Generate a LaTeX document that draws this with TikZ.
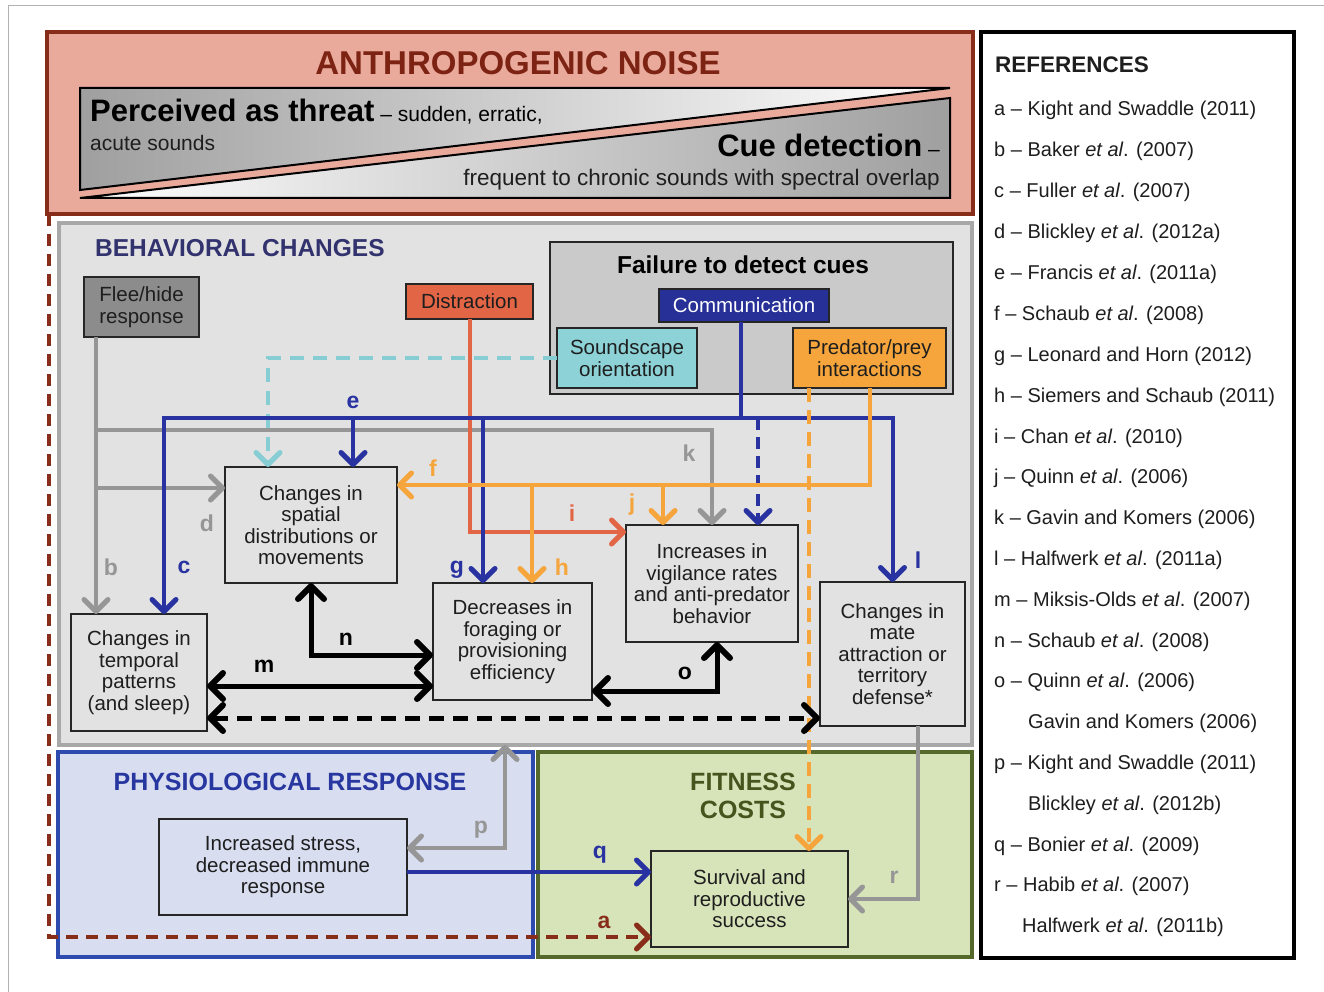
\documentclass[tikz,border=0pt]{standalone}
\usepackage{fontspec}
\setmainfont{Liberation Sans}
\usetikzlibrary{arrows.meta,calc}
\newcommand\myfs[2]{\fontsize{#1}{#2}\selectfont}
\definecolor{salmon}{RGB}{234,170,155}
\definecolor{brick}{RGB}{135,45,25}
\definecolor{anthtxt}{RGB}{125,35,20}
\definecolor{behfill}{RGB}{226,226,226}
\definecolor{behdraw}{RGB}{168,168,168}
\definecolor{behtxt}{RGB}{50,50,110}
\definecolor{failfill}{RGB}{202,202,202}
\definecolor{navy}{RGB}{40,50,160}
\definecolor{commfill}{RGB}{38,48,150}
\definecolor{orng}{RGB}{245,165,60}
\definecolor{redor}{RGB}{226,102,70}
\definecolor{cyanf}{RGB}{140,210,215}
\definecolor{cyanl}{RGB}{135,205,212}
\definecolor{gline}{RGB}{150,150,150}
\definecolor{fleefill}{RGB}{140,140,140}
\definecolor{phyfill}{RGB}{216,221,240}
\definecolor{phydraw}{RGB}{45,75,175}
\definecolor{phytxt}{RGB}{40,55,160}
\definecolor{fitfill}{RGB}{215,228,186}
\definecolor{fitdraw}{RGB}{85,105,45}
\definecolor{fittxt}{RGB}{70,85,30}
\definecolor{txt}{RGB}{30,30,30}
\begin{document}
\begin{tikzpicture}[x=1pt,y=-1pt,
  tipc/.style={>={Straight Barb[length=12pt,width=24pt,line width=5pt,round]}},
  tipk/.style={>={Straight Barb[length=13pt,width=26pt,line width=6pt,round]}},
  cont/.style={line width=4pt, inner sep=0pt, outer sep=0pt},
  box/.style={draw=black!85, line width=1.5pt, inner sep=0pt, outer sep=0pt, align=center, text=txt, font=\myfs{20.5}{21.5}},
  lab/.style={inner sep=0pt, font=\bfseries\myfs{23}{23}},
  gl/.style={draw=gline, line width=4pt, tipc},
  bl/.style={draw=navy, line width=4pt, tipc},
  og/.style={draw=orng, line width=4pt, tipc},
  rd/.style={draw=redor, line width=4pt, tipc},
  cy/.style={draw=cyanl, line width=4pt, dash pattern=on 14pt off 9pt, tipc},
  bk/.style={draw=black, line width=5pt, tipk},
  ar/.style={draw=brick, line width=4.5pt, dash pattern=on 12pt off 8pt, tipc},
  reft/.style={anchor=base west, inner sep=0pt, text=txt, font=\myfs{20}{20}}
]
\useasboundingbox (0,0) rectangle (1324,992);
\fill[white] (0,0) rectangle (1324,992);
\draw[gray!60, line width=1pt] (8,992) -- (8,6) -- (1324,6);

% ---------- containers ----------
\node[cont, draw=brick, line width=4.5pt, fill=salmon, minimum width=926pt, minimum height=182pt] (anth) at (510,123) {};
\node[cont, draw=behdraw, fill=behfill, minimum width=913pt, minimum height=522pt] (behav) at (515.5,484) {};
\node[cont, draw=phydraw, fill=phyfill, minimum width=475pt, minimum height=205pt] (physio) at (295.5,854.5) {};
\node[cont, draw=fitdraw, fill=fitfill, minimum width=434pt, minimum height=205pt] (fitness) at (755,854.5) {};
\node[cont, draw=black, line width=4.5pt, fill=white, minimum width=313pt, minimum height=926pt] (refs) at (1137.5,495) {};

% ---------- banner ----------
\node[inner sep=0pt, text=anthtxt, font=\bfseries\myfs{33}{33}] (anthT) at (518,63) {ANTHROPOGENIC NOISE};
\shade[left color=gray!75, right color=white] (80,88) -- (950,88) -- (80,190) -- cycle;
\draw[black, line width=2pt, line join=miter] (80,88) -- (950,88) -- (80,190) -- cycle;
\shade[left color=white, right color=gray!75] (80,198) -- (950,98) -- (950,198) -- cycle;
\draw[black, line width=2pt, line join=miter] (80,198) -- (950,98) -- (950,198) -- cycle;
\node[anchor=base west, inner sep=0pt, text=black] (threat) at (90,122) {{\bfseries\myfs{31}{31}Perceived as threat}{\myfs{21}{21} – sudden, erratic,}};
\node[anchor=base west, inner sep=0pt, text=txt, font=\myfs{21}{21}] (acute) at (90,151) {acute sounds};
\node[anchor=base east, inner sep=0pt, text=black] (cue) at (940,157) {{\bfseries\myfs{31}{31}Cue detection}{\myfs{21}{21} –}};
\node[anchor=base east, inner sep=0pt, text=txt, font=\myfs{22.5}{22.5}] (freq) at (940,186) {frequent to chronic sounds with spectral overlap};

% ---------- behavioral ----------
\node[anchor=west, inner sep=0pt, text=behtxt, font=\bfseries\myfs{24.5}{24.5}] (behT) at (95,248) {BEHAVIORAL CHANGES};
\node[box, fill=failfill, minimum width=403pt, minimum height=152pt] (fail) at (751.5,318) {};
\node[inner sep=0pt, text=black, font=\bfseries\myfs{24.5}{24.5}] (failT) at (743,265) {Failure to detect cues};
\node[box, fill=commfill, text=white, minimum width=170pt, minimum height=33pt] (comm) at (744,305.5) {Communication};
\node[box, fill=cyanf, minimum width=140pt, minimum height=60pt] (sound) at (627,358) {Soundscape\\orientation};
\node[box, fill=orng, minimum width=153pt, minimum height=60pt] (pred) at (869.5,358) {Predator/prey\\interactions};
\node[box, fill=redor, minimum width=127pt, minimum height=35pt] (distr) at (469.5,301.5) {Distraction};
\node[box, fill=fleefill, minimum width=115pt, minimum height=60pt] (flee) at (141.5,307) {Flee/hide\\response};

\node[box, fill=behfill, minimum width=172pt, minimum height=116pt] (spatial) at (311,525) {Changes in\\spatial\\distributions or\\movements};
\node[box, fill=behfill, minimum width=136pt, minimum height=117pt] (temporal) at (139,672.5) {Changes in\\temporal\\patterns\\(and sleep)};
\node[box, fill=behfill, minimum width=159pt, minimum height=117pt] (forage) at (512.5,641.5) {Decreases in\\foraging or\\provisioning\\efficiency};
\node[box, fill=behfill, minimum width=172pt, minimum height=117pt] (vigil) at (712,583.5) {Increases in\\vigilance rates\\and anti-predator\\behavior};
\node[box, fill=behfill, minimum width=145pt, minimum height=144pt] (mate) at (892.5,654) {Changes in\\mate\\attraction or\\territory\\defense*};

% ---------- physiological / fitness ----------
\node[inner sep=0pt, text=phytxt, font=\bfseries\myfs{25}{25}] (phyT) at (290,782) {PHYSIOLOGICAL RESPONSE};
\node[inner sep=0pt, text=fittxt, align=center, font=\bfseries\myfs{25}{27.5}] (fitT) at (743,796) {FITNESS\\COSTS};
\node[box, fill=phyfill, minimum width=248pt, minimum height=96pt] (stress) at (283,867) {Increased stress,\\decreased immune\\response};
\node[box, fill=fitfill, minimum width=197pt, minimum height=96pt] (surv) at (749.5,899) {Survival and\\reproductive\\success};

% ---------- connectors ----------
\coordinate (g1) at (96,430);
\coordinate (g2) at (96,488);
\draw[gl,->] ([xshift=12pt]flee.south west) -- ([xshift=25pt]temporal.north west);
\draw[gl,->] (g1) -| (vigil.north);
\draw[gl,->] (g2) -- (g2 -| spatial.west);

\draw[cy,->] (sound.west) -| ([xshift=43pt]spatial.north west);

\draw[rd,->] (distr.south) |- ([yshift=-7pt]vigil.north west);

\coordinate (bj) at (741,418);
\coordinate (be) at (353,418);
\coordinate (bg) at (483,418);
\coordinate (bv) at (758,418);
\draw[bl] ([xshift=-3pt]comm.south) -- (bj);
\draw[bl,->] (bj) -| ([xshift=93pt]temporal.north west);
\draw[bl,->] (bj) -| (mate.north);
\draw[bl,->] (be) -- (be |- spatial.north);
\draw[bl,->] (bg) -- (bg |- forage.north);
\draw[bl,dash pattern=on 12pt off 7pt,->] (bv) -- (bv |- vigil.north);

\coordinate (oh) at (532,485);
\coordinate (oj) at (663,485);
\draw[og,->] (pred.south) |- ([yshift=-18pt]spatial.north east);
\draw[og,->] (oh) -- (oh |- forage.north);
\draw[og,->] (oj) -- (oj |- vigil.north);
\draw[og,dash pattern=on 14pt off 8pt,->] ([xshift=16pt]pred.south west) -- ([xshift=158pt]surv.north west);

\draw[bk,<->] (spatial.south) |- ([yshift=-72pt]forage.north west);
\draw[bk,<->] ([yshift=-72pt]temporal.north east) -- ([yshift=-103pt]forage.north west);
\draw[bk,<->] ([yshift=-108pt]forage.north east) -| ([xshift=5pt]vigil.south);
\draw[bk,dash pattern=on 15pt off 9pt,<->] ([yshift=-104pt]temporal.north east) -- ([yshift=-136pt]mate.north west);

\draw[gl,<->] ([yshift=-29pt]stress.north east) -| ([xshift=-10.5pt]behav.south);
\draw[bl,->] ([yshift=-53pt]stress.north east) -- ([yshift=-21pt]surv.north west);
\draw[gl,->] ([xshift=-47pt]mate.south east) |- (surv.east);
\draw[ar,->] ([xshift=2pt]anth.south west) |- ([yshift=-86pt]surv.north west);

% ---------- labels ----------
\node[lab, text=gline] (la-b) at (111,567) {b};
\node[lab, text=navy] (la-c) at (184,567) {c};
\node[lab, text=gline] (la-d) at (207,523) {d};
\node[lab, text=navy] (la-e) at (353,402) {e};
\node[lab, text=orng] (la-f) at (433,468) {f};
\node[lab, text=navy] (la-g) at (457,570) {g};
\node[lab, text=orng] (la-h) at (562,567) {h};
\node[lab, text=redor] (la-i) at (572,513) {i};
\node[lab, text=orng] (la-j) at (632,505) {j};
\node[lab, text=gline] (la-k) at (689,453) {k};
\node[lab, text=navy] (la-l) at (918,560) {l};
\node[lab, text=black] (la-m) at (264,666) {m};
\node[lab, text=black] (la-n) at (346,639) {n};
\node[lab, text=black] (la-o) at (685,673) {o};
\node[lab, text=gline] (la-p) at (481,830) {p};
\node[lab, text=navy] (la-q) at (600,855) {q};
\node[lab, text=gline] (la-r) at (894,877) {r};
\node[lab, text=brick] (la-a) at (604,922) {a};

% ---------- references ----------
\node[anchor=base west, inner sep=0pt, text=txt, font=\bfseries\myfs{22.5}{22.5}] (refT) at (995,73) {REFERENCES};
\foreach \n/\x/\y/\t in {
  1/994/109/{a – Kight and Swaddle (2011)},
  2/994/150/{b – Baker \textit{et al}. (2007)},
  3/994/191/{c – Fuller \textit{et al}. (2007)},
  4/994/232/{d – Blickley \textit{et al}. (2012a)},
  5/994/272/{e – Francis \textit{et al}. (2011a)},
  6/994/313/{f – Schaub \textit{et al}. (2008)},
  7/994/354/{g – Leonard and Horn (2012)},
  8/994/395/{h – Siemers and Schaub (2011)},
  9/994/436/{i – Chan \textit{et al}. (2010)},
  10/994/476/{j – Quinn \textit{et al}. (2006)},
  11/994/517/{k – Gavin and Komers (2006)},
  12/994/558/{l – Halfwerk \textit{et al}. (2011a)},
  13/994/599/{m – Miksis-Olds \textit{et al}. (2007)},
  14/994/640/{n – Schaub \textit{et al}. (2008)},
  15/994/680/{o – Quinn \textit{et al}. (2006)},
  16/1028/721/{Gavin and Komers (2006)},
  17/994/762/{p – Kight and Swaddle (2011)},
  18/1028/803/{Blickley \textit{et al}. (2012b)},
  19/994/844/{q – Bonier \textit{et al}. (2009)},
  20/994/884/{r – Habib \textit{et al}. (2007)},
  21/1022/925/{Halfwerk \textit{et al}. (2011b)}}
  { \node[reft] (ref\n) at (\x,\y+7) {\t}; }
\end{tikzpicture}
\end{document}
